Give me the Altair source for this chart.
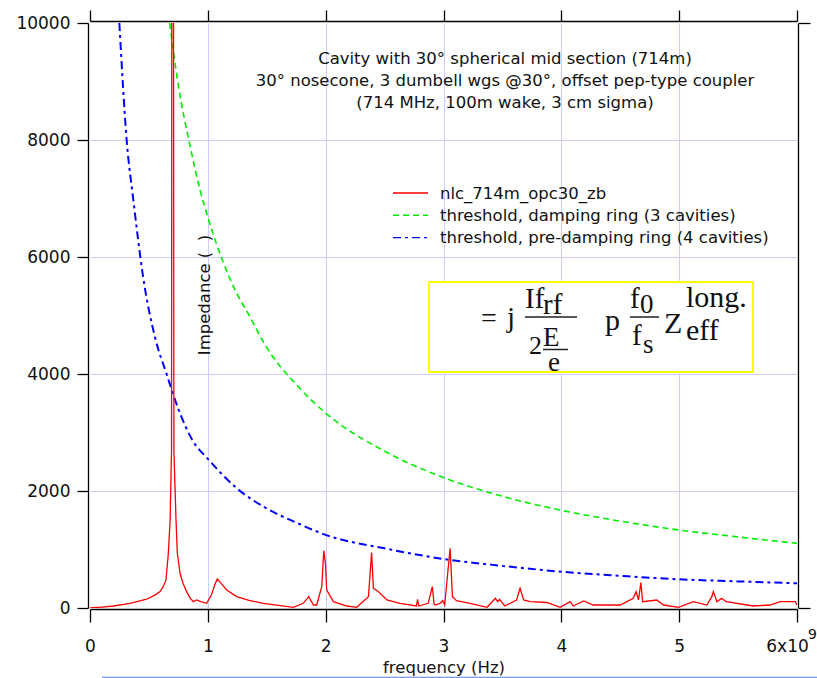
import json
import altair as alt
import pandas as pd

FONT = "DejaVu Sans"
SERIF = "Liberation Serif"

# ---------------- data ----------------
# measured impedance (frequency in GHz, impedance)
RED_F = [0.00, 0.10, 0.20, 0.34, 0.48, 0.55, 0.594, 0.62, 0.645, 0.665, 0.68, 0.692, 0.70,
         0.712, 0.73, 0.741, 0.764, 0.79, 0.82, 0.85, 0.877, 0.906, 0.94, 0.99, 1.03, 1.06,
         1.08, 1.10, 1.16, 1.245, 1.35, 1.47, 1.60, 1.726, 1.81, 1.856, 1.896, 1.924, 1.947,
         1.967, 1.984, 1.998, 2.009, 2.066, 2.18, 2.264, 2.315, 2.363, 2.39, 2.405, 2.448,
         2.52, 2.63, 2.77, 2.78, 2.79, 2.87, 2.905, 2.92, 2.93, 2.97, 2.994, 3.01, 3.056,
         3.076, 3.11, 3.226, 3.37, 3.44, 3.46, 3.475, 3.52, 3.62, 3.65, 3.68, 3.735, 3.877,
         3.99, 4.075, 4.10, 4.19, 4.27, 4.50, 4.61, 4.635, 4.655, 4.675, 4.69, 4.81, 4.867,
         4.994, 5.12, 5.235, 5.277, 5.29, 5.32, 5.36, 5.40, 5.63, 5.77, 5.86, 5.985, 6.00]
RED_Z = [0, 15, 34, 80, 150, 220, 280, 360, 480, 940, 1500, 2700, 30000,
         2700, 1500, 940, 593, 420, 280, 170, 108, 137, 108, 80, 222, 400,
         496, 450, 308, 194, 130, 80, 45, 12, 80, 194, 51, 51, 222,
         365, 980, 764, 308, 108, 34, 12, 108, 194, 950, 336, 279,
         137, 80, 34, 148, 34, 80, 365, 70, 51, 80, 125, 51, 1020,
         194, 125, 80, 12, 165, 108, 148, 34, 137, 336, 137, 108, 94,
         12, 108, 34, 120, 51, 51, 165, 280, 137, 433, 108, 137, 51,
         12, 108, 51, 194, 280, 108, 165, 108, 34, 51, 108, 108, 51]

# threshold, damping ring (3 cavities)
GREEN_F = [0.676, 0.75, 0.849, 0.934, 1.0, 1.25, 1.34, 1.5, 1.75, 2.0, 2.5, 3.0, 3.5,
           4.0, 4.5, 5.0, 5.5, 6.0]
GREEN_Z = [10000, 8930, 7900, 7145, 6680, 5360, 5040, 4450, 3820, 3333, 2680, 2230, 1910,
           1670, 1485, 1333, 1215, 1105]

# threshold, pre-damping ring (4 cavities)
BLUE_F = [0.249, 0.311, 0.368, 0.45, 0.55, 0.65, 0.75, 0.877, 1.0, 1.25, 1.5, 1.75, 2.0,
          2.5, 3.0, 3.5, 4.0, 4.5, 5.0, 5.5, 6.0]
BLUE_Z = [10000, 8000, 6974, 5670, 4640, 4000, 3400, 2843, 2550, 2040, 1700, 1460, 1250,
          1020, 838, 720, 620, 550, 490, 455, 422]

X_TICKS = [0, 1, 2, 3, 4, 5, 6]
X_TICK_LABELS = ["0", "1", "2", "3", "4", "5", "6x10"]
Y_TICKS = [0, 2000, 4000, 6000, 8000, 10000]

SERIES = ["nlc_714m_opc30_zb",
          "threshold, damping ring (3 cavities)",
          "threshold, pre-damping ring (4 cavities)"]
COLORS = ["#ff0000", "#00ee00", "#0000ff"]
DASHES = [[1, 0], [6, 4], [8, 4, 3, 4]]
WIDTHS = [1.3, 1.6, 2.0]

TITLE_LINES = ["Cavity with 30\u00b0 spherical mid section (714m)",
               "30\u00b0 nosecone, 3 dumbell wgs @30\u00b0, offset pep-type coupler",
               "(714 MHz, 100m wake, 3 cm sigma)"]

# ---------------- layout (pixels of the page) ----------------
L, T, W, H = 90, 23, 707, 585

def px(X):
    return X - L

def py(Y):
    return Y - T

red = pd.DataFrame({"f": RED_F, "z": RED_Z})
green = pd.DataFrame({"f": GREEN_F, "z": GREEN_Z})
blue = pd.DataFrame({"f": BLUE_F, "z": BLUE_Z})
one = pd.DataFrame({"k": [0]})

xsc = alt.Scale(domain=[0, 6], nice=False, zero=False)
ysc = alt.Scale(domain=[0, 10000], nice=False, zero=False)

GRID = "#ccccff"

x_bottom = alt.Axis(
    values=X_TICKS, labelExpr=json.dumps(X_TICK_LABELS) + "[datum.value]",
    title="frequency (Hz)", grid=True, gridColor=GRID, gridWidth=1,
    gridOpacity={"condition": {"test": "datum.value == 0 || datum.value == 6", "value": 0}, "value": 1},
    domainColor="black", domainWidth=1.3, tickColor="black", tickWidth=1.3, tickSize=13,
    labelFont=FONT, labelFontSize=17, labelColor="#111", labelPadding=16, labelFlush=False,
    labelOffset={"condition": {"test": "datum.value == 6", "value": -10}, "value": 0},
    titleFont=FONT, titleFontSize=16.5, titleFontWeight="normal", titleColor="#111",
    titlePadding=5, offset=1,
)
y_left = alt.Axis(
    values=Y_TICKS, format="d", title=None, grid=True, gridColor=GRID, gridWidth=1,
    gridOpacity={"condition": {"test": "datum.value == 0 || datum.value == 10000", "value": 0}, "value": 1},
    domainColor="black", domainWidth=1.3, tickColor="black", tickWidth=1.3, tickSize=11,
    labelFont=FONT, labelFontSize=17, labelColor="#111", labelPadding=7, labelFlush=False,
    offset=2,
)
x_top = alt.Axis(orient="top", values=X_TICKS, labels=False, title=None, grid=False,
                 domainColor="black", domainWidth=1.3, tickColor="black", tickWidth=1.3,
                 tickSize=11, offset=2)
y_right = alt.Axis(orient="right", values=[0, 10000], labels=False, title=None, grid=False,
                   domainColor="black", domainWidth=1.3, tickColor="black", tickWidth=1.3,
                   tickSize=12, offset=1)

green_layer = alt.Chart(green).mark_line(
    color=COLORS[1], strokeDash=DASHES[1], strokeWidth=WIDTHS[1], interpolate="monotone", clip=True
).encode(x=alt.X("f:Q", scale=xsc, axis=x_top), y=alt.Y("z:Q", scale=ysc, axis=y_right))

blue_layer = alt.Chart(blue).mark_line(
    color=COLORS[2], strokeDash=DASHES[2], strokeWidth=WIDTHS[2], interpolate="monotone", clip=True
).encode(x=alt.X("f:Q", scale=xsc, axis=None), y=alt.Y("z:Q", scale=ysc, axis=None))

red_layer = alt.Chart(red).mark_line(
    color=COLORS[0], strokeWidth=WIDTHS[0], clip=True
).encode(x=alt.X("f:Q", scale=xsc, axis=x_bottom), y=alt.Y("z:Q", scale=ysc, axis=y_left))

layers = [green_layer, blue_layer, red_layer]

# title block inside the plot
layers.append(alt.Chart(one).mark_text(
    font=FONT, fontSize=16.5, color="#111", align="center", baseline="alphabetic",
    lineBreak="\n", lineHeight=22.3
).encode(x=alt.value(px(505)), y=alt.value(py(63.5)), text=alt.value("\n".join(TITLE_LINES))))

# legend
for i, name in enumerate(SERIES):
    yy = 193 + 22.3 * i
    layers.append(alt.Chart(one).mark_rule(
        color=COLORS[i], strokeDash=DASHES[i] if i else [1, 0], strokeWidth=1.4
    ).encode(x=alt.value(px(393)), x2=alt.value(px(428)), y=alt.value(py(yy))))
    layers.append(alt.Chart(one).mark_text(
        font=FONT, fontSize=16.5, color="#111", align="left", baseline="alphabetic"
    ).encode(x=alt.value(px(440)), y=alt.value(py(yy + 5.5)), text=alt.value(name)))

# y-axis title (placed inside plot as in the original)
layers.append(alt.Chart(one).mark_text(
    font=FONT, fontSize=16.5, color="#111", angle=270, align="center", baseline="middle"
).encode(x=alt.value(px(205)), y=alt.value(py(295)), text=alt.value("Impedance (\u00a0\u00a0)")))

# formula box
layers.append(alt.Chart(one).mark_rect(fill="white", stroke="#ffff00", strokeWidth=2).encode(
    x=alt.value(px(429)), x2=alt.value(px(753)), y=alt.value(py(282)), y2=alt.value(py(372))))

FORMULA = [("=", 481, 327, 28), ("j", 507, 327, 29), ("If", 525, 308, 29), ("rf", 543, 314, 29),
           ("2", 529, 354, 26), ("E", 543, 346, 27), ("e", 548, 371, 27), ("p", 605, 330, 30),
           ("f", 630, 308, 29), ("0", 640, 313, 27), ("f", 632, 345, 29), ("s", 643, 353, 27),
           ("Z", 664, 333, 30), ("long.", 686, 307, 30), ("eff", 686, 340, 30)]
for txt, X, Y, s in FORMULA:
    layers.append(alt.Chart(one).mark_text(
        font=SERIF, fontSize=s, color="#111", align="left", baseline="alphabetic"
    ).encode(x=alt.value(px(X)), y=alt.value(py(Y)), text=alt.value(txt)))

for X1, X2, Y in [(525, 577, 317), (630, 659, 317), (543, 568, 349.5)]:
    layers.append(alt.Chart(one).mark_rule(color="#222", strokeWidth=1.5).encode(
        x=alt.value(px(X1)), x2=alt.value(px(X2)), y=alt.value(py(Y))))

# exponent of the last tick label
layers.append(alt.Chart(one).mark_text(
    font=FONT, fontSize=14, color="#111", align="left", baseline="alphabetic"
).encode(x=alt.value(px(808)), y=alt.value(py(639)), text=alt.value("9")))

# thin blue line under the frame
layers.append(alt.Chart(one).mark_rule(color="#7799ee", strokeWidth=1.3).encode(
    x=alt.value(px(102)), x2=alt.value(px(817)), y=alt.value(py(677.5))))

chart = alt.layer(*layers).resolve_axis(x="independent", y="independent").properties(
    width=W, height=H,
    autosize=alt.AutoSizeParams(type="none"),
    padding={"left": L, "top": T, "right": 817 - L - W, "bottom": 678 - T - H},
    background="white",
).configure_view(stroke=None)

chart.save("out.html", embed_options={"renderer": "svg", "actions": False})
